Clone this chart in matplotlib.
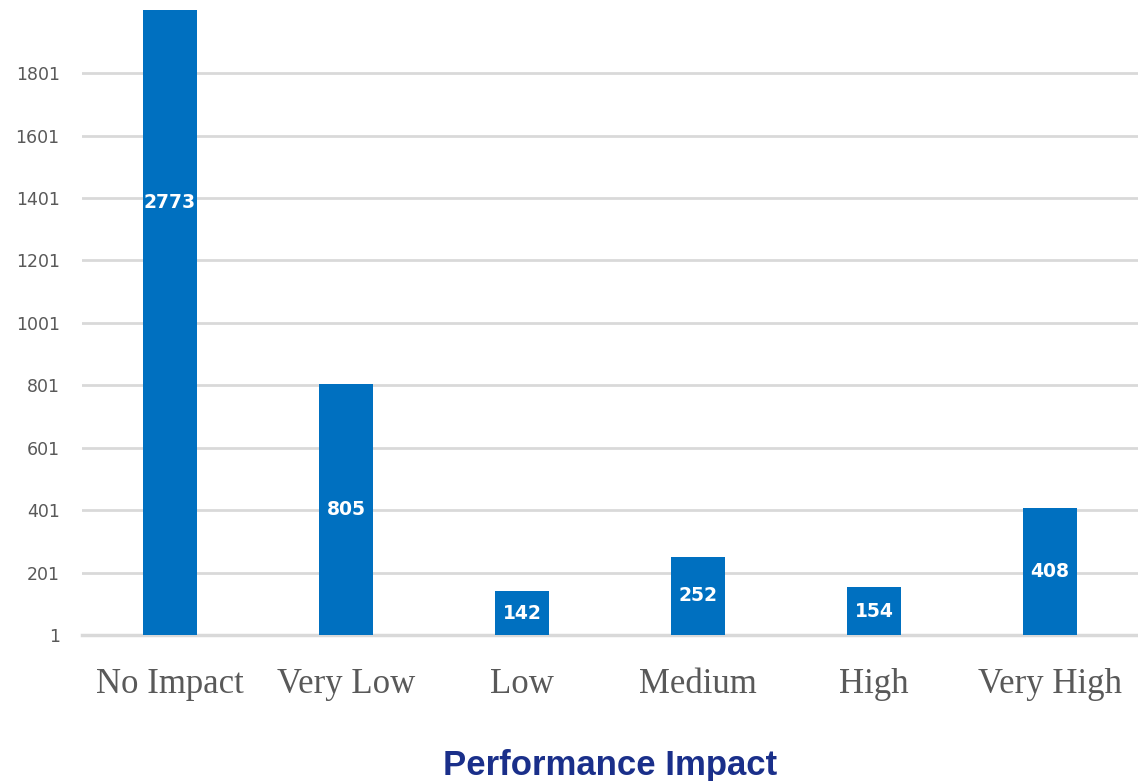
import numpy as np
import matplotlib
matplotlib.use("Agg")
import matplotlib.pyplot as plt

categories = ["No Impact", "Very Low", "Low", "Medium", "High", "Very High"]
counts = [2773, 805, 142, 252, 154, 408]
yticks = [1, 201, 401, 601, 801, 1001, 1201, 1401, 1601, 1801]


def draw():
	fig = plt.figure(figsize=(11.38, 7.81), dpi=100)
	ax = fig.add_axes([0.072, 0.187, 0.928, 0.8])

	x = np.arange(len(categories))
	ax.bar(x, counts, 0.31, bottom=0, color="#0070C0", zorder=3)

	# labels sit at the middle of the full bar, even when clipped
	for xi, v in zip(x, counts):
		ax.text(xi, v / 2.0, str(v), ha="center", va="center", color="white",
				fontsize=13.5, fontweight="bold", family="DejaVu Sans", zorder=4)

	ax.set_xlim(-0.5, 5.5)
	ax.set_ylim(1, 2003)
	ax.set_yticks(yticks)
	ax.set_yticklabels([str(t) for t in yticks])
	ax.set_xticks(x)
	ax.set_xticklabels(categories)

	for tl in ax.get_yticklabels():
		tl.set_fontsize(12.5)
		tl.set_color("#595959")
	for tl in ax.get_xticklabels():
		tl.set_fontsize(25)
		tl.set_color("#595959")
		tl.set_family("Liberation Serif")

	ax.tick_params(axis="both", length=0)
	ax.tick_params(axis="y", pad=16)
	ax.tick_params(axis="x", pad=24)
	ax.yaxis.grid(True, color="#d9d9d9", linewidth=2, zorder=0)
	ax.axhline(yticks[0], color="#d9d9d9", linewidth=2.5, clip_on=False, zorder=2)
	for s in ax.spines.values():
		s.set_visible(False)

	ax.set_xlabel("Performance Impact", fontsize=25, fontweight="bold",
				  color="#1a2f8a", family="Liberation Sans", labelpad=34)

	fig.savefig("out.png", dpi=100)


if __name__ == "__main__":
	draw()
